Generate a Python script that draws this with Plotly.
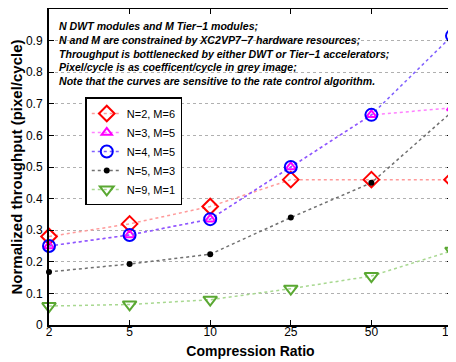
import plotly.graph_objects as go

categories = ["2", "5", "10", "25", "50", "100"]
y_n2m6 = [0.28, 0.32, 0.375, 0.46, 0.46, 0.46]
y_n3m5 = [0.25, 0.285, 0.335, 0.50, 0.665, 0.687]
y_n4m5 = [0.25, 0.285, 0.335, 0.50, 0.665, 0.915]
y_n5m3 = [0.168, 0.193, 0.224, 0.34, 0.45, 0.675]
y_n9m1 = [0.06, 0.065, 0.08, 0.115, 0.155, 0.235]
y_ticks = [0, 0.1, 0.2, 0.3, 0.4, 0.5, 0.6, 0.7, 0.8, 0.9, 1]
y_tick_text = ["0", "0.1", "0.2", "0.3", "0.4", "0.5", "0.6", "0.7", "0.8", "0.9", "1"]

xi = list(range(len(categories)))

series = [
    ("N=2, M=6", y_n2m6, "#ff9a9a", dict(symbol="diamond-open", size=12, color="red", line=dict(width=2, color="red"))),
    ("N=3, M=5", y_n3m5, "#ff80ff", dict(symbol="triangle-up-open", size=9, color="magenta", line=dict(width=2, color="magenta"))),
    ("N=4, M=5", y_n4m5, "#8060ff", dict(symbol="circle-open", size=12, color="blue", line=dict(width=2, color="blue"))),
    ("N=5, M=3", y_n5m3, "#707070", dict(symbol="circle", size=6, color="black")),
    ("N=9, M=1", y_n9m1, "#a8d890", dict(symbol="triangle-down-open", size=12, color="#5aa832", line=dict(width=2, color="#5aa832"))),
]

fig = go.Figure()
for name, ys, lc, mk in series:
    fig.add_trace(go.Scatter(x=xi, y=ys, name=name, mode="lines+markers",
                             line=dict(color=lc, width=1.5, dash="dot"),
                             marker=mk, cliponaxis=False))

note = ("<b><i>N DWT modules and M Tier\u22121 modules;<br>"
        "N and M are constrained by XC2VP7\u22127 hardware resources;<br>"
        "Throughput is bottlenecked by either DWT or Tier\u22121 accelerators;<br>"
        "Pixel/cycle is as coefficent/cycle in grey image;<br>"
        "Note that the curves are sensitive to the rate control algorithm.</i></b>")
fig.add_annotation(text=note, xref="paper", yref="paper", x=0.02, y=0.972,
                   xanchor="left", yanchor="top", showarrow=False, align="left",
                   font=dict(family="Liberation Sans, Arial", size=10.6, color="black"))

fig.update_layout(
    width=448, height=354,
    margin=dict(l=41, r=4, t=1, b=37),
    paper_bgcolor="white", plot_bgcolor="white",
    font=dict(family="Liberation Sans, Arial", size=13, color="black"),
    legend=dict(x=0.09, y=0.72, xanchor="left", yanchor="top",
                bordercolor="black", borderwidth=1.5, bgcolor="white",
                font=dict(size=11), tracegroupgap=0, itemwidth=30),
    showlegend=True,
)
fig.update_xaxes(range=[0, 5], tickmode="array", tickvals=xi, ticktext=categories,
                 ticks="inside", ticklen=5, tickcolor="black", showgrid=False,
                 showline=True, linecolor="black", linewidth=2, mirror="ticks",
                 zeroline=False, automargin=False, ticklabeloverflow="allow",
                 ticklabelstandoff=-5, tickfont=dict(size=12),
                 title=dict(text="<b>Compression Ratio</b>", font=dict(size=14), standoff=8))
fig.update_yaxes(range=[0, 1], tickmode="array", tickvals=y_ticks, ticktext=y_tick_text,
                 ticks="inside", ticklen=5, tickcolor="black",
                 showgrid=True, gridcolor="#b0b0b0", griddash="dot", gridwidth=1,
                 showline=True, linecolor="black", linewidth=2, mirror="ticks",
                 zeroline=False, automargin=False, ticklabelstandoff=2, tickfont=dict(size=12),
                 title=dict(text="<b>Normalized throughput (pixel/cycle)</b>", font=dict(size=15), standoff=2))

fig.write_html("out.html")
